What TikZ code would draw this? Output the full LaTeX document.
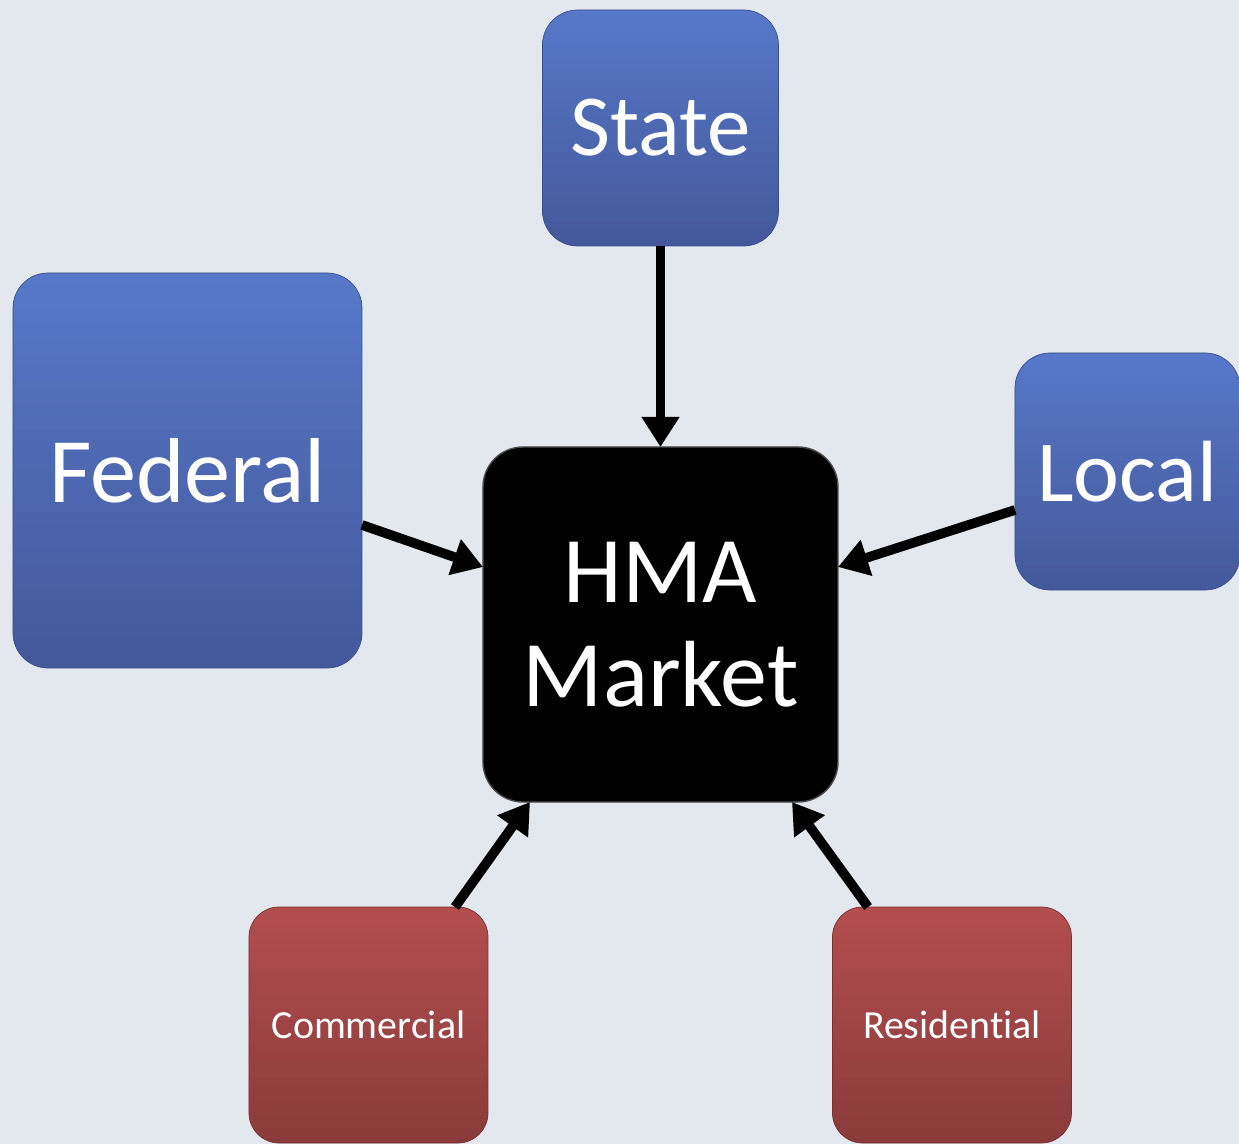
\documentclass[tikz,border=0pt]{standalone}
\usepackage{fontspec}
\setmainfont[Ligatures=NoCommon]{Carlito}
\usepackage{tikz}
\usetikzlibrary{positioning,arrows.meta}
\definecolor{bgcol}{HTML}{E3E8EF}
\definecolor{bluetop}{HTML}{5778C9}
\definecolor{bluebot}{HTML}{44589A}
\definecolor{blueline}{HTML}{3B4F8C}
\definecolor{redtop}{HTML}{B34E4E}
\definecolor{redbot}{HTML}{8A3A3A}
\definecolor{redline}{HTML}{7A3030}

\begin{document}
\begin{tikzpicture}[
govbox/.style={rectangle, rounded corners=0.7cm, draw=blueline, thin, top color=bluetop, bottom color=bluebot, text=white, inner sep=0pt, outer sep=0pt, font=\fontsize{49.5}{58}\selectfont},
sectorbox/.style={rectangle, rounded corners=0.6cm, draw=redline, thin, top color=redtop, bottom color=redbot, text=white, inner sep=0pt, outer sep=0pt, minimum width=4.78cm, minimum height=4.72cm, font=\fontsize{22.7}{27}\selectfont},
hub/.style={rectangle, rounded corners=0.8cm, draw=black!70, thick, fill=black, text=white, inner sep=0pt, outer sep=0pt, minimum size=7.1cm, align=center, font=\fontsize{53.5}{59}\selectfont},
link/.style={line width=5.5pt, -{Triangle[length=0.6cm,width=0.72cm]}},
]

\fill[bgcol] (-13.21,-10.39) rectangle (11.57,12.49);
\useasboundingbox (-13.21,-10.39) rectangle (11.57,12.49);

\node[hub] (market) at (0,0) {HMA\\[0cm]Market};
\node[govbox, minimum size=4.72cm] (state) [above=4.02cm of market] {State};
\node[govbox, minimum width=6.98cm, minimum height=7.9cm, font=\fontsize{52.5}{60}\selectfont] (federal) at (-9.46,3.08) {Federal};
\node[govbox, minimum width=4.5cm, minimum height=4.74cm] (local) at (9.34,3.06) {Local};
\node[sectorbox] (commercial) at (-5.84,-8.01) {Commercial};
\node[sectorbox] (residential) at (5.83,-8.01) {Residential};

\draw[link] (state.south) -- (market.north);
\draw[link] ([yshift=-1.09cm]federal.east) -- ([yshift=1.15cm]market.west);
\draw[link] ([yshift=-0.77cm]local.west) -- ([yshift=1.15cm]market.east);
\draw[link] ([xshift=1.73cm]commercial.north) -- ([xshift=-2.61cm]market.south);
\draw[link] ([xshift=-1.68cm]residential.north) -- ([xshift=2.63cm]market.south);

\end{tikzpicture}
\end{document}
